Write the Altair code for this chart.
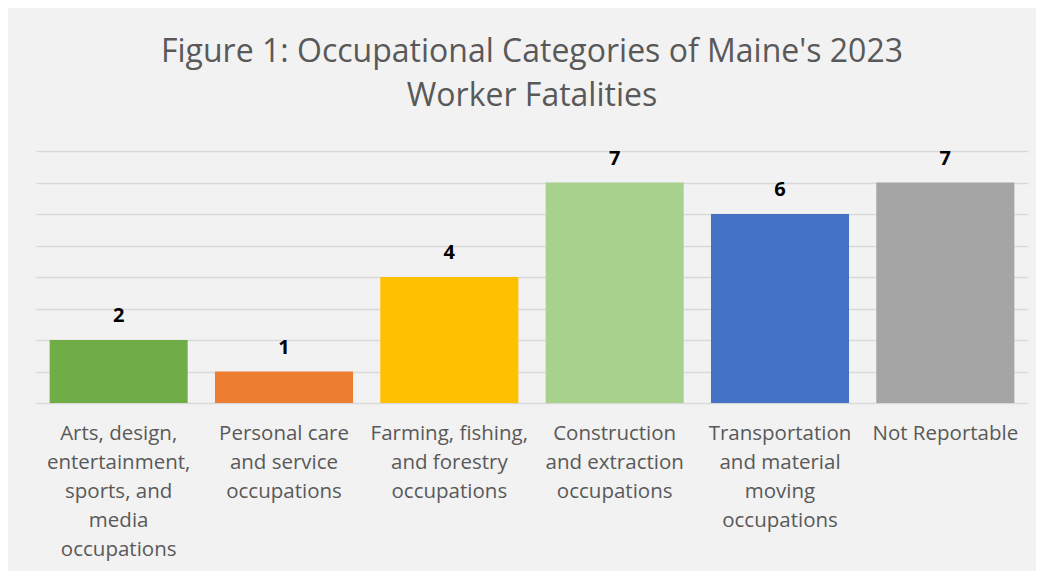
import altair as alt
import pandas as pd

categories = [
    "Arts, design,|entertainment,|sports, and|media|occupations",
    "Personal care|and service|occupations",
    "Farming, fishing,|and forestry|occupations",
    "Construction|and extraction|occupations",
    "Transportation|and material|moving|occupations",
    "Not Reportable",
]
values = [2, 1, 4, 7, 6, 7]
colors = ["#70ad47", "#ed7d31", "#ffc000", "#a9d18e", "#4472c4", "#a5a5a5"]

df = pd.DataFrame({"cat": categories, "val": values, "color": colors})

x = alt.X(
    "cat:N",
    sort=categories,
    title=None,
    scale=alt.Scale(paddingInner=0.165, paddingOuter=0.0825),
    axis=alt.Axis(
        labelExpr="split(datum.label, '|')",
        labelAngle=0,
        labelFont="Open Sans",
        labelFontSize=20.5,
        labelColor="#595959",
        labelLineHeight=29,
        labelPadding=20,
        labelLimit=0,
        ticks=False,
        domain=False,
        labelBaseline="top",
    ),
)
y = alt.Y(
    "val:Q",
    title=None,
    scale=alt.Scale(domain=[0, 8], nice=False),
    axis=alt.Axis(
        values=[0, 1, 2, 3, 4, 5, 6, 7, 8],
        labels=False,
        ticks=False,
        domain=False,
        grid=True,
        gridColor="#d9d9d9",
        gridWidth=1.4,
    ),
)

base = alt.Chart(df).encode(x=x, y=y)
bars = base.mark_bar().encode(color=alt.Color("color:N", scale=None))
text = base.mark_text(
    baseline="bottom", dy=-14, font="Open Sans", fontWeight="bold", fontSize=20, color="#000000"
).encode(text="val:Q")

chart = (
    alt.layer(bars, text)
    .properties(
        width=992,
        height=252,
        autosize=alt.AutoSizeParams(type="none"),
        padding={"left": 28, "top": 143, "right": 8, "bottom": 168},
        title=alt.TitleParams(
            text=["Figure 1: Occupational Categories of Maine's 2023", "Worker Fatalities"],
            font="Open Sans",
            fontSize=32,
            fontWeight="normal",
            color="#595959",
            lineHeight=44,
            anchor="middle",
            offset=36,
        ),
    )
    .configure(background="#f2f2f2")
    .configure_view(stroke=None)
)

chart.save("out.html", embed_options={"renderer": "svg", "actions": False})
